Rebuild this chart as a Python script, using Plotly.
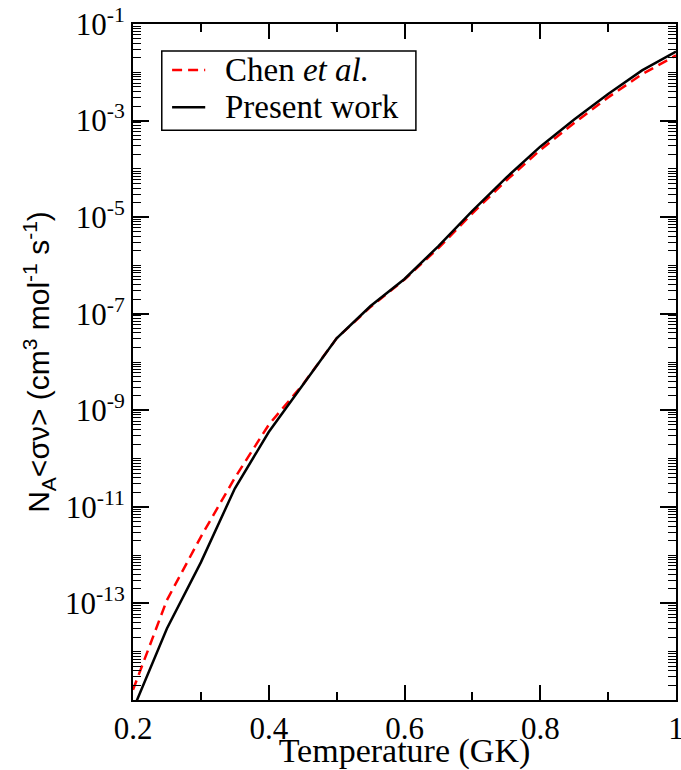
import plotly.graph_objects as go

# Reaction rate N_A<sigma v> versus temperature, stored as log10 values
temperature = [0.20, 0.25, 0.30, 0.35, 0.40, 0.45, 0.50, 0.55, 0.60,
               0.65, 0.70, 0.75, 0.80, 0.85, 0.90, 0.95, 1.00]
log_rate_chen = [-14.79, -12.93, -11.62, -10.40, -9.30, -8.47, -7.51, -6.86, -6.29,
                 -5.64, -4.92, -4.24, -3.61, -3.05, -2.52, -2.04, -1.65]
log_rate_present = [-15.20, -13.52, -12.15, -10.62, -9.45, -8.47, -7.51, -6.84, -6.28,
                    -5.60, -4.87, -4.18, -3.54, -2.98, -2.45, -1.96, -1.57]

series_names = ["Chen <i>et al.</i>", "Present work"]
series_colors = ["#ff0000", "#000000"]
series_dash = ["10px,6px", "solid"]

x_tick_vals = [0.2, 0.4, 0.6, 0.8, 1.0]
x_tick_text = ["0.2", "0.4", "0.6", "0.8", "1"]
x_minor_vals = [0.3, 0.5, 0.7, 0.9]
y_major_exp = [-13, -11, -9, -7, -5, -3, -1]

rate_chen = [10 ** v for v in log_rate_chen]
rate_present = [10 ** v for v in log_rate_present]

y_tick_vals = [10.0 ** e for e in y_major_exp]
y_tick_text = ["10<sup>%d</sup>" % e for e in y_major_exp]
y_minor_vals = []
for e in range(-15, -1):
    for k in range(1, 10):
        if k == 1 and e in y_major_exp:
            continue
        y_minor_vals.append(k * 10.0 ** e)

serif = "Liberation Serif"
sans = "Liberation Sans"

fig = go.Figure()
for name, ys, color, dash in zip(series_names, [rate_chen, rate_present],
                                 series_colors, series_dash):
    fig.add_trace(go.Scatter(
        x=temperature, y=ys, mode="lines", name=name, showlegend=False,
        line=dict(color=color, width=2.5, dash=dash),
    ))

# Boxed key in the upper-left corner of the plotting area
fig.add_shape(type="rect", xref="paper", yref="paper",
              x0=0.053, x1=0.521, y0=0.843, y1=0.960,
              line=dict(color="black", width=1.5), fillcolor="white", layer="above")
row_y = [0.932, 0.877]
for name, color, dash, yy in zip(series_names, series_colors, series_dash, row_y):
    fig.add_shape(type="line", xref="paper", yref="paper",
                  x0=0.072, x1=0.133, y0=yy, y1=yy, layer="above",
                  line=dict(color=color, width=2.5, dash=dash))
    fig.add_annotation(xref="paper", yref="paper", x=0.165, y=yy,
                       xanchor="left", yanchor="middle", showarrow=False,
                       text=name, font=dict(family=serif, size=33, color="black"))

ytitle = "N<sub>A</sub>&lt;σν&gt; (cm<sup>3</sup> mol<sup>-1</sup> s<sup>-1</sup>)"

fig.update_layout(
    width=681, height=770,
    margin=dict(l=133, r=5, t=24, b=70, autoexpand=False),
    paper_bgcolor="white", plot_bgcolor="white",
    font=dict(family=serif, color="black"),
    showlegend=False,
    xaxis=dict(
        range=[0.2, 1.0], automargin=False,
        tickmode="array", tickvals=x_tick_vals, ticktext=x_tick_text,
        ticks="inside", ticklen=15, tickwidth=1.5, tickcolor="black",
        minor=dict(tickmode="array", tickvals=x_minor_vals, ticks="inside",
                   ticklen=8, tickwidth=1.5, tickcolor="black", showgrid=False),
        showline=True, linecolor="black", linewidth=2, mirror="ticks",
        showgrid=False, zeroline=False, ticklabeloverflow="allow",
        tickfont=dict(family=serif, size=31, color="black"),
        title=dict(text="Temperature (GK)", font=dict(family=serif, size=34, color="black"),
                   standoff=1),
    ),
    yaxis=dict(
        type="log", range=[-15, -1], automargin=False,
        tickmode="array", tickvals=y_tick_vals, ticktext=y_tick_text,
        ticks="inside", ticklen=16, tickwidth=1.5, tickcolor="black",
        minor=dict(tickmode="array", tickvals=y_minor_vals, ticks="inside",
                   ticklen=8, tickwidth=1.2, tickcolor="black", showgrid=False),
        showline=True, linecolor="black", linewidth=2, mirror="ticks",
        showgrid=False, zeroline=False, ticklabeloverflow="allow",
        tickfont=dict(family=serif, size=31, color="black"),
        title=dict(text=ytitle, font=dict(family=sans, size=30, color="black"),
                   standoff=6),
    ),
)

fig.write_html("out.html")
